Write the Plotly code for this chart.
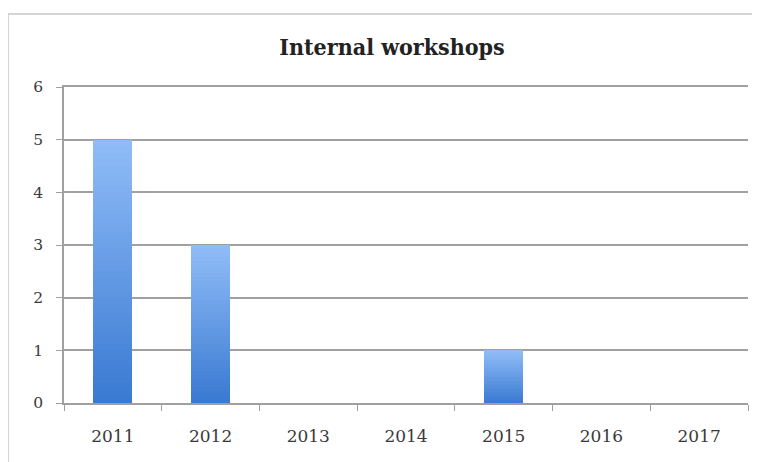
import plotly.graph_objects as go

years = ["2011", "2012", "2013", "2014", "2015", "2016", "2017"]
workshops = [5, 3, 0, 0, 1, 0, 0]
title_text = "Internal workshops"

# page body has an 8px margin; figure is sized/positioned to compensate
W, H = 752, 454
OFF = 8
PL, PR, PT, PB = 64 - OFF, 748 - OFF, 87 - OFF, 403 - OFF  # plot area in figure px
PW, PH = PR - PL, PB - PT

# gradient simulation: each bar split into equal stacked slices, light at top, dark at bottom
N = 40
top_rgb = (143, 188, 247)
bot_rgb = (58, 122, 210)

fig = go.Figure()
for i in range(N):
    t = i / (N - 1)
    c = tuple(round(bot_rgb[k] + (top_rgb[k] - bot_rgb[k]) * t) for k in range(3))
    fig.add_trace(go.Bar(
        x=years,
        y=[v / N for v in workshops],
        marker=dict(color=f"rgb{c}", line=dict(width=0)),
        showlegend=False,
        hoverinfo="skip" if i < N - 1 else None,
        customdata=workshops,
        hovertemplate="%{x}: %{customdata}<extra></extra>",
    ))

fig.update_layout(
    barmode="stack",
    bargap=0.6,
    width=W, height=H,
    margin=dict(l=PL, r=W - PR, t=PT, b=H - PB),
    paper_bgcolor="white",
    plot_bgcolor="white",
    title=dict(text="<b>" + title_text + "</b>", x=(392 - OFF) / W, xanchor="center",
               y=1 - (47 - OFF) / H, yanchor="middle",
               font=dict(family="DejaVu Serif Condensed, DejaVu Serif", size=23, color="#222222")),
    font=dict(family="DejaVu Serif", color="#3a3a3a"),
    xaxis=dict(
        type="category",
        tickson="boundaries",
        ticks="outside", ticklen=6, tickcolor="#a0a0a0",
        showline=True, linecolor="#a0a0a0", linewidth=1.5, mirror=True,
        showgrid=False,
        tickfont=dict(size=17, color="#3a3a3a"),
        ticklabelstandoff=17,
    ),
    yaxis=dict(
        range=[0, 6], dtick=1,
        ticks="outside", ticklen=6, tickcolor="#a0a0a0",
        showline=True, linecolor="#a0a0a0", linewidth=1.5,
        showgrid=True, gridcolor="#a0a0a0", gridwidth=1.5,
        zeroline=False,
        tickfont=dict(size=15.5, color="#3a3a3a"),
        ticklabelstandoff=10,
    ),
    shapes=[dict(type="rect", xref="paper", yref="paper",
                 x0=(0 - PL) / PW, x1=(W + 20 - PL) / PW,
                 y0=-(H + 20 - PB) / PH, y1=(PB - 6) / PH,
                 line=dict(color="#c8c8c8", width=1.5), layer="below")],
)

fig.write_html("out.html")
